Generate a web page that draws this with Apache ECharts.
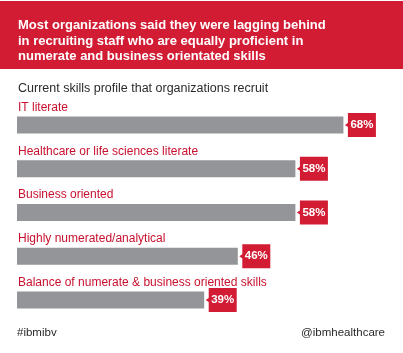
<!DOCTYPE html>
<html>
<head>
<meta charset="utf-8">
<script src="https://cdn.jsdelivr.net/npm/echarts@6/dist/echarts.min.js"></script>
<style>
html, body { margin: 0; padding: 0; background: #fff; }
#chart { width: 403px; height: 353px; }
</style>
</head>
<body>
<div id="chart"></div>
<script>
var categories = [
    'IT literate',
    'Healthcare or life sciences literate',
    'Business oriented',
    'Highly numerated/analytical',
    'Balance of numerate & business oriented skills'
];
var values = [68, 58, 58, 46, 39];

var red = '#d21c34';
var labelRed = '#c8102e';
var grey = '#939598';
var font = 'Liberation Sans';

// box with a small pointer on the left
var tagPath = 'path://M3,0 L31,0 L31,24 L3,24 L3,14 L0,12 L3,10 Z';

var chart = echarts.init(document.getElementById('chart'));

var option = {
    animation: false,
    backgroundColor: '#fff',
    textStyle: { fontFamily: font },
    graphic: [
        {
            type: 'rect',
            left: 0, top: 1,
            shape: { width: 403, height: 68 },
            style: { fill: red },
            z: 0
        },
        {
            type: 'text',
            left: 18, top: 18,
            style: {
                text: 'Most organizations said they were lagging behind\nin recruiting staff who are equally proficient in\nnumerate and business orientated skills',
                fill: '#fff',
                font: 'bold 13px "Liberation Sans"',
                lineHeight: 15.5
            },
            z: 1
        },
        {
            type: 'text',
            left: 18, top: 82,
            style: {
                text: 'Current skills profile that organizations recruit',
                fill: '#2a2a2a',
                font: '12.5px "Liberation Sans"'
            }
        },
        {
            type: 'text',
            left: 17, top: 327,
            style: { text: '#ibmibv', fill: '#2a2a2a', font: '11.5px "Liberation Sans"' }
        },
        {
            type: 'text',
            right: 18, top: 327,
            style: { text: '@ibmhealthcare', fill: '#2a2a2a', font: '11.5px "Liberation Sans"' }
        }
    ],
    grid: { left: 17, right: 26, top: 103, bottom: 31 },
    xAxis: {
        type: 'value',
        min: 0,
        max: 75,
        show: false
    },
    yAxis: {
        type: 'category',
        data: categories,
        inverse: true,
        show: false
    },
    series: [
        {
            type: 'bar',
            data: values,
            barWidth: 17,
            itemStyle: { color: grey },
            label: {
                show: true,
                position: [1, -15],
                formatter: '{b}',
                color: labelRed,
                fontSize: 12,
                fontFamily: font,
                verticalAlign: 'top',
                align: 'left'
            }
        },
        {
            type: 'scatter',
            data: values.map(function (v, i) { return [v, i]; }),
            symbol: tagPath,
            symbolSize: [31, 24],
            symbolKeepAspect: false,
            symbolOffset: [17, 0],
            itemStyle: { color: red, opacity: 1 },
            label: {
                show: true,
                position: 'inside',
                offset: [1.5, 0],
                formatter: function (p) { return p.value[0] + '%'; },
                color: '#fff',
                fontWeight: 'bold',
                fontSize: 11.5,
                fontFamily: font
            },
            z: 3
        }
    ]
};

option && chart.setOption(option);
</script>
</body>
</html>
